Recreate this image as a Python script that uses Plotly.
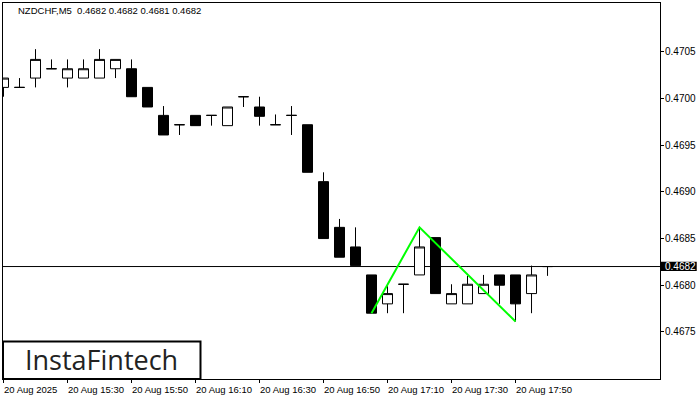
import plotly.graph_objects as go

# ---- data ----
times = ["15:10", "15:15", "15:20", "15:25", "15:30", "15:35", "15:40", "15:45", "15:50", "15:55",
         "16:00", "16:05", "16:10", "16:15", "16:20", "16:25", "16:30", "16:35", "16:40", "16:45",
         "16:50", "16:55", "17:00", "17:05", "17:10", "17:15", "17:20", "17:25", "17:30", "17:35",
         "17:40", "17:45", "17:50", "17:55", "18:00"]
open_ = [0.47012, 0.47012, 0.47022, 0.47032, 0.47022, 0.47022, 0.47022, 0.47032, 0.47032, 0.47012,
         0.46982, 0.46972, 0.46982, 0.46982, 0.46971, 0.47002, 0.46991, 0.46972, 0.46982, 0.46972,
         0.46911, 0.46862, 0.46841, 0.46811, 0.46780, 0.46801, 0.46811, 0.46851, 0.46780, 0.46780,
         0.46791, 0.46811, 0.46811, 0.46791, 0.46820]
high = [0.47022, 0.47022, 0.47053, 0.47042, 0.47042, 0.47042, 0.47053, 0.47042, 0.47042, 0.47012,
        0.46992, 0.46972, 0.46982, 0.46982, 0.46991, 0.47002, 0.47002, 0.46983, 0.46992, 0.46972,
        0.46921, 0.46871, 0.46862, 0.46811, 0.46799, 0.46801, 0.46862, 0.46851, 0.46801, 0.46810,
        0.46811, 0.46811, 0.46811, 0.46821, 0.46820]
low = [0.47002, 0.47012, 0.47012, 0.47032, 0.47012, 0.47022, 0.47022, 0.47022, 0.47002, 0.46991,
       0.46961, 0.46961, 0.46971, 0.46971, 0.46971, 0.46991, 0.46971, 0.46972, 0.46961, 0.46921,
       0.46850, 0.46830, 0.46821, 0.46770, 0.46770, 0.46770, 0.46811, 0.46791, 0.46780, 0.46780,
       0.46791, 0.46780, 0.46761, 0.46770, 0.46810]
close = [0.47022, 0.47012, 0.47042, 0.47032, 0.47032, 0.47032, 0.47042, 0.47042, 0.47002, 0.46991,
         0.46961, 0.46972, 0.46971, 0.46982, 0.46991, 0.47002, 0.46981, 0.46972, 0.46982, 0.46921,
         0.46850, 0.46830, 0.46821, 0.46770, 0.46791, 0.46801, 0.46841, 0.46791, 0.46791, 0.46801,
         0.46801, 0.46800, 0.46780, 0.46811, 0.46820]

pattern_idx = [23, 26, 32]
pattern_price = [0.46770, 0.46862, 0.46761]

tick_idx = [0, 4, 8, 12, 16, 20, 24, 28, 32]
tick_labels = ["20 Aug 2025", "20 Aug 15:30", "20 Aug 15:50", "20 Aug 16:10", "20 Aug 16:30",
               "20 Aug 16:50", "20 Aug 17:10", "20 Aug 17:30", "20 Aug 17:50"]
y_ticks = [0.4675, 0.4680, 0.4685, 0.4690, 0.4695, 0.4700, 0.4705]
current_price = 0.4682
title_text = "NZDCHF,M5  0.4682 0.4682 0.4681 0.4682"
logo_text = "InstaFintech"

x = list(range(len(times)))
FONT = "Liberation Sans"
TXT = "#000000"

fig = go.Figure()
fig.add_trace(go.Candlestick(
    x=x, open=open_, high=high, low=low, close=close,
    increasing=dict(line=dict(color="black", width=1), fillcolor="white"),
    decreasing=dict(line=dict(color="black", width=1), fillcolor="black"),
    whiskerwidth=0, showlegend=False, hoverinfo="skip",
))
fig.add_trace(go.Scatter(
    x=pattern_idx, y=pattern_price, mode="lines",
    line=dict(color="#00FF00", width=2), showlegend=False, hoverinfo="skip",
))

# current price line
fig.add_shape(type="line", xref="paper", x0=0, x1=1, yref="y", y0=current_price, y1=current_price,
              line=dict(color="black", width=1), layer="below")
# price label box
fig.add_shape(type="rect", xref="paper", x0=1.0011, x1=1.0559, yref="y",
              y0=0.468153, y1=0.468252, fillcolor="black", line=dict(width=0))
fig.add_annotation(x=1.0076, xref="paper", xanchor="left", y=current_price, yref="y",
                   yanchor="middle", text=f"{current_price:.4f}", showarrow=False,
                   font=dict(family=FONT, size=10, color="white"), borderpad=0, xshift=-1)

# y tick labels
for v in y_ticks:
    fig.add_annotation(x=1.0076, xref="paper", xanchor="left", y=v, yref="y", yanchor="middle",
                       text=f"{v:.4f}", showarrow=False, font=dict(family=FONT, size=10, color=TXT),
                       borderpad=0, xshift=-1)

# title
fig.add_annotation(x=0.0233, xref="paper", xanchor="left", y=0.9795, yref="paper", yanchor="middle",
                   text=title_text, showarrow=False, font=dict(family=FONT, size=9.5, color=TXT),
                   borderpad=0, xshift=-1)

# x tick labels (left aligned at tick)
for xi, lab in zip(tick_idx, tick_labels):
    fig.add_annotation(x=xi, xref="x", xanchor="left", y=-0.0266, yref="paper", yanchor="middle",
                       text=lab, showarrow=False, font=dict(family=FONT, size=9.5, color=TXT),
                       borderpad=0, xshift=-1)

# logo
fig.add_shape(type="rect", xref="paper", x0=0, x1=0.3006, yref="paper", y0=0, y1=0.0997,
              fillcolor="white", line=dict(color="black", width=2), layer="above")
fig.add_annotation(x=0.1503, xref="paper", xanchor="center", y=0.052, yref="paper", yanchor="middle",
                   text=logo_text, showarrow=False,
                   font=dict(family="Open Sans", size=27, color="#222222", weight=500),
                   borderpad=0)

fig.update_layout(
    width=700, height=400,
    margin=dict(l=3, r=40, t=3, b=21),
    plot_bgcolor="white", paper_bgcolor="white",
    boxgap=0.375, boxgroupgap=0,
    showlegend=False,
    hovermode=False,
)
fig.update_xaxes(
    range=[-0.031, 41.03], rangeslider=dict(visible=False),
    showgrid=False, zeroline=False, showline=True, linecolor="black", linewidth=1, mirror=True,
    tickmode="array", tickvals=tick_idx, ticks="outside", ticklen=3, tickcolor="black",
    showticklabels=False,
)
fig.update_yaxes(
    range=[0.4669946, 0.4710246], side="right",
    showgrid=False, zeroline=False, showline=True, linecolor="black", linewidth=1, mirror=True,
    tickmode="array", tickvals=y_ticks, ticks="outside", ticklen=3, tickcolor="black",
    showticklabels=False,
)

fig.write_html("out.html", config={"displayModeBar": False, "staticPlot": True},
               post_script="document.body.style.margin='0px';document.body.style.overflow='hidden';")
